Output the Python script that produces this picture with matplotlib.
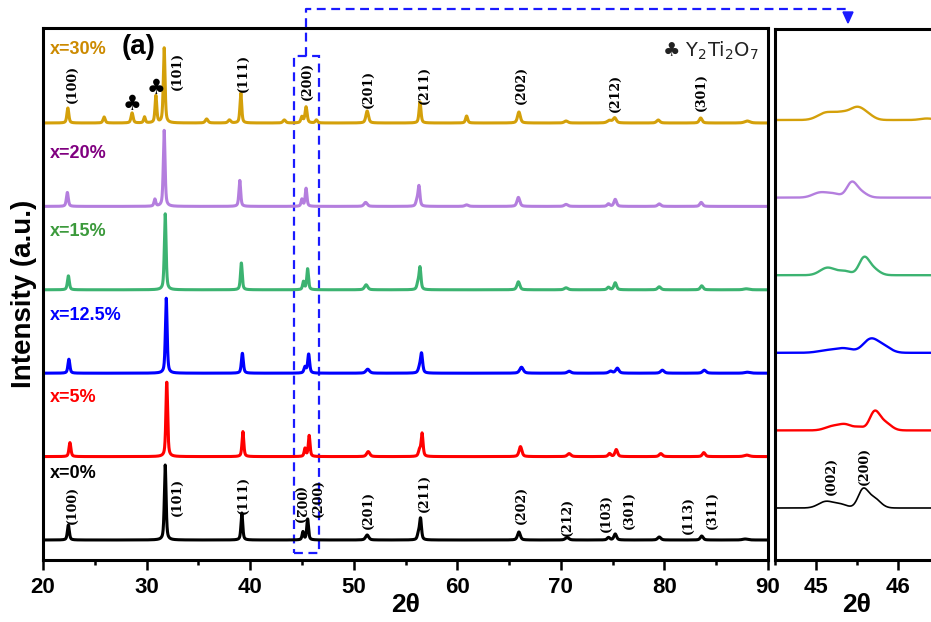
import numpy as np
import matplotlib.pyplot as plt
from matplotlib.lines import Line2D
from matplotlib.patches import Rectangle, Polygon
from matplotlib.ticker import MultipleLocator

plt.rcParams['font.family'] = ['Liberation Sans', 'DejaVu Sans']
plt.rcParams['font.weight'] = 'bold'
plt.rcParams['mathtext.default'] = 'regular'

# sample names, bottom to top
labels = ['x=0%', 'x=5%', 'x=12.5%', 'x=15%', 'x=20%', 'x=30%']
line_colors = ['#000000', '#FF0000', '#0000FF', '#3CB371', '#B47EDE', '#D4A00A']
label_colors = ['#000000', '#FF0000', '#0000FF', '#3C9A3C', '#800080', '#CC8A00']

# full-range patterns: peaks as (2theta, height, half width)
peaks_0 = [(22.45, 15, 0.11), (31.8, 75, 0.10), (39.2, 27, 0.10), (45.1, 8, 0.10),
           (45.55, 21, 0.10), (51.3, 5, 0.18), (56.25, 6, 0.12), (56.45, 21, 0.11),
           (65.95, 8, 0.16), (70.6, 2.5, 0.2), (74.6, 2.5, 0.15), (75.25, 6, 0.15),
           (79.5, 3, 0.18), (83.6, 4, 0.16), (87.8, 1, 0.3)]
peaks_5 = [(22.6, 14, 0.11), (31.95, 75, 0.10), (39.3, 25, 0.10), (45.3, 8, 0.10),
           (45.7, 21, 0.10), (51.4, 5, 0.18), (56.35, 6, 0.12), (56.6, 23, 0.11),
           (66.1, 10, 0.16), (70.8, 3, 0.2), (74.7, 3, 0.15), (75.35, 7, 0.15),
           (79.65, 3, 0.18), (83.8, 4, 0.16), (87.95, 1.5, 0.3)]
peaks_125 = [(22.5, 14, 0.11), (31.9, 75, 0.10), (39.25, 20, 0.11), (45.3, 6, 0.12),
             (45.65, 19, 0.11), (51.35, 4, 0.2), (56.35, 5, 0.14), (56.55, 19, 0.12),
             (66.2, 6, 0.2), (70.8, 2, 0.2), (74.8, 2, 0.2), (75.45, 5, 0.18),
             (79.8, 3, 0.2), (83.85, 3, 0.2), (88.0, 1, 0.3)]
peaks_15 = [(22.45, 14, 0.11), (31.8, 76, 0.10), (39.15, 27, 0.10), (45.15, 8, 0.10),
            (45.55, 21, 0.10), (51.2, 5, 0.18), (56.2, 6, 0.12), (56.4, 22, 0.11),
            (65.9, 8, 0.16), (70.5, 2, 0.2), (74.6, 2.5, 0.15), (75.25, 7, 0.15),
            (79.5, 3, 0.18), (83.6, 4, 0.16), (87.9, 1, 0.3)]
peaks_20 = [(22.35, 14, 0.11), (30.8, 7, 0.10), (31.7, 76, 0.10), (39.0, 26, 0.10),
            (45.0, 7, 0.10), (45.4, 18, 0.10), (51.15, 4, 0.18), (56.1, 5, 0.12),
            (56.3, 20, 0.11), (60.9, 1.5, 0.2), (65.9, 9, 0.16), (70.5, 2, 0.2),
            (74.6, 2.5, 0.15), (75.25, 7, 0.15), (79.5, 2.5, 0.18), (83.55, 4, 0.16)]
peaks_30 = [(22.4, 15, 0.11), (25.9, 6, 0.12), (28.6, 10, 0.12), (29.8, 6, 0.10),
            (30.9, 27, 0.10), (31.7, 75, 0.10), (35.8, 4, 0.15), (38.0, 3, 0.15),
            (39.1, 30, 0.10), (43.3, 3, 0.15), (45.0, 6, 0.12), (45.4, 16, 0.12),
            (46.4, 3, 0.12), (51.3, 12, 0.15), (56.4, 21, 0.11), (60.9, 7, 0.12),
            (65.95, 11, 0.16), (70.5, 2, 0.2), (74.7, 2.5, 0.25), (75.2, 5, 0.18),
            (79.4, 3, 0.18), (83.5, 5, 0.16), (88.0, 2, 0.3)]
all_peaks = [peaks_0, peaks_5, peaks_125, peaks_15, peaks_20, peaks_30]
offset_full = 83.4

# zoomed window 44.5-46.4: (2theta, height, sigma)
zoom_0 = [(45.12, 6.5, 0.09), (45.30, 3.5, 0.08), (45.57, 17, 0.06), (45.70, 10, 0.08)]
zoom_5 = [(45.20, 4, 0.09), (45.36, 5.5, 0.08), (45.53, 3, 0.06), (45.71, 17, 0.06),
          (45.83, 8, 0.08)]
zoom_125 = [(45.15, 2.5, 0.12), (45.35, 4, 0.10), (45.66, 13, 0.09), (45.82, 6, 0.09)]
zoom_15 = [(45.14, 7.5, 0.09), (45.35, 4, 0.08), (45.58, 15, 0.06), (45.68, 7, 0.08)]
zoom_20 = [(45.05, 5, 0.09), (45.22, 3.5, 0.08), (45.43, 13, 0.06), (45.53, 6, 0.08)]
zoom_30 = [(45.12, 7, 0.10), (45.33, 7, 0.10), (45.50, 10, 0.08), (45.62, 5, 0.08),
           (46.35, 1.5, 0.08)]
all_zoom = [zoom_0, zoom_5, zoom_125, zoom_15, zoom_20, zoom_30]
offset_zoom = 77.6

# Miller index labels: (text, 2theta, label centre height)
hkl_top = [('(100)', 22.8, 456), ('(101)', 33.0, 469), ('(111)', 39.3, 467),
           ('(200)', 45.5, 459), ('(201)', 51.4, 451), ('(211)', 56.8, 455),
           ('(202)', 66.2, 455), ('(212)', 75.3, 447), ('(301)', 83.6, 448)]
hkl_bottom = [('(100)', 22.8, 35), ('(101)', 33.0, 43), ('(111)', 39.3, 45),
              ('(002)', 44.7, 34), ('(200)', 46.6, 42), ('(201)', 51.4, 30),
              ('(211)', 56.8, 47), ('(202)', 66.2, 35), ('(212)', 70.6, 23),
              ('(103)', 74.4, 27), ('(301)', 76.6, 30), ('(113)', 82.3, 25),
              ('(311)', 84.6, 30)]
hkl_zoom = [('(002)', 45.19, 32), ('(200)', 45.59, 42)]
label_y = [66, 142, 225, 308, 386, 491]


def pattern(x, peaks):
    y = np.zeros_like(x)
    for x0, h, w in peaks:
        t = (x - x0) / w
        y += h * (0.55 / (1 + t ** 2) + 0.45 * np.exp(-np.log(2) * t ** 2))
    return y


def zoom_pattern(x, peaks):
    y = np.zeros_like(x)
    for x0, h, s in peaks:
        y += h * np.exp(-(x - x0) ** 2 / (2 * s ** 2))
    return y


W, H = 931, 622
fig = plt.figure(figsize=(W / 100, H / 100), dpi=100)
ax = fig.add_axes([43 / W, 1 - 560 / H, (768 - 43) / W, (560 - 28) / H])
ax2 = fig.add_axes([775 / W, 1 - 560 / H, (W - 775) / W, (560 - 29) / H])

two_theta = np.arange(20, 90.001, 0.02)
for i, peaks in enumerate(all_peaks):
    ax.plot(two_theta, pattern(two_theta, peaks) + i * offset_full,
            color=line_colors[i], lw=2.2, solid_joinstyle='round')
    ax.text(20.65, label_y[i], labels[i], color=label_colors[i],
            fontsize=13, fontweight='bold', ha='left', va='center')

serif = dict(family='DejaVu Serif', fontsize=9, fontweight='bold', ha='center', va='center')
for txt, xx, yy in hkl_top:
    ax.text(xx, yy, txt, rotation=90, **serif)
for txt, xx, yy in hkl_bottom:
    ax.text(xx, yy, txt, rotation=270 if txt == '(002)' else 90, **serif)

ax.text(28.6, 436, '\u2663', family='DejaVu Sans', fontsize=15, ha='center', va='center')
ax.text(30.9, 452, '\u2663', family='DejaVu Sans', fontsize=15, ha='center', va='center')
ax.text(89.1, 500, '\u2663 Y$_2$Ti$_2$O$_7$', family='DejaVu Sans', fontweight='normal',
        fontsize=14, color='#222222', ha='right', va='top')
ax.text(27.6, 486, '(a)', fontsize=20, fontweight='bold', ha='left', va='baseline')

ax.add_patch(Rectangle((44.2, -13), 2.4, 497, fill=False, ec='#1A1AFF', lw=1.6,
                       ls=(0, (4, 2.5)), clip_on=False))

ax.set_xlim(20, 90)
ax.set_ylim(-20, 512)
ax.xaxis.set_major_locator(MultipleLocator(10))
ax.xaxis.set_minor_locator(MultipleLocator(5))
ax.set_yticks([])
ax.set_xlabel('2\u03b8', fontsize=19, fontweight='bold')
ax.xaxis.set_label_coords(0.5, -0.062)
ax.set_ylabel('Intensity (a.u.)', fontsize=20, fontweight='bold', labelpad=4)

x_zoom = np.arange(44.5, 46.4, 0.005)
for i, peaks in enumerate(all_zoom):
    ax2.plot(x_zoom, zoom_pattern(x_zoom, peaks) + i * offset_zoom,
             color=line_colors[i], lw=1.2 if i == 0 else 1.7)
for txt, xx, yy in hkl_zoom:
    ax2.text(xx, yy, txt, rotation=90, family='DejaVu Serif', fontsize=9,
             ha='center', va='center')
ax2.set_xlim(44.5, 46.4)
ax2.set_ylim(-52, 479)
ax2.set_xticks([45, 46])
ax2.xaxis.set_minor_locator(MultipleLocator(0.5))
ax2.set_yticks([])
ax2.spines['right'].set_visible(False)
ax2.set_xlabel('2\u03b8', fontsize=19, fontweight='bold')
ax2.xaxis.set_label_coords((857 - 775) / (W - 775), -0.062)

for a in (ax, ax2):
    for s in a.spines.values():
        s.set_linewidth(2.2)
    a.tick_params(axis='x', which='major', direction='out', length=7, width=1.8,
                  labelsize=16, pad=5)
    a.tick_params(axis='x', which='minor', direction='out', length=3.5, width=1.8)
    for lab in a.get_xticklabels():
        lab.set_fontweight('bold')


# dashed connector from the box to the zoomed panel
def fx(p):
    return p / W


def fy(p):
    return 1 - p / H


fig.add_artist(Line2D([fx(306), fx(306), fx(848), fx(848)], [fy(56), fy(9), fy(9), fy(13)],
                      color='#1A1AFF', lw=1.6, ls=(0, (4, 2.5))))
fig.add_artist(Polygon([(fx(843), fy(12)), (fx(853), fy(12)), (fx(848), fy(23))],
                       closed=True, color='#1A1AFF', transform=fig.transFigure))

fig.savefig('out.png', dpi=100)
